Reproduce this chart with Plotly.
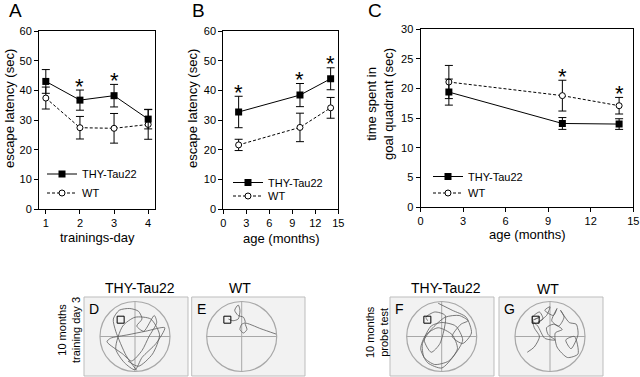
import plotly.graph_objects as go

W, H = 640, 377
FONT = "Arial, Liberation Sans, sans-serif"

# ---------------- data ----------------
# Panel A: escape latency vs trainings-day (10 months)
days = [1, 2, 3, 4]
a_thy = [43.0, 36.7, 38.2, 30.3]
a_thy_err = [4.0, 3.4, 3.8, 3.3]
a_wt = [37.4, 27.4, 27.2, 28.5]
a_wt_err = [3.7, 3.8, 5.0, 5.0]
a_star_x = [2, 3]

# Panel B: escape latency vs age
ages = [2, 10, 14]
b_thy = [32.7, 38.4, 43.9]
b_thy_err = [5.3, 3.9, 3.7]
b_wt = [21.6, 27.5, 34.1]
b_wt_err = [1.9, 4.8, 3.5]
b_star_x = [2, 10, 14]

# Panel C: time spent in goal quadrant vs age
c_thy = [19.4, 14.1, 14.0]
c_thy_err = [2.2, 1.0, 0.9]
c_wt = [21.1, 18.8, 17.1]
c_wt_err = [2.8, 2.6, 1.4]
c_star_x = [10, 14]

# Swim paths (pool radius = 1, centre = 0,0)
platform = (-0.41, 0.48)
d_x = [0.05, -0.25, -0.55, -0.62, -0.45, -0.15, 0.1, 0.2, 0.05, 0.25, 0.55, 0.62, 0.4, 0.2, -0.1, -0.35, -0.8, -0.7, -0.2, 0.3, 0.85, 0.6, 0.2, 0.0, -0.3, -0.55, -0.35, 0.0, 0.45, 0.7, 0.5, 0.1, -0.2]
d_y = [-0.97, -0.55, 0.15, 0.5, 0.75, 0.8, 0.72, 0.5, 0.3, 0.15, 0.6, 0.4, 0.0, -0.4, -0.7, -0.5, -0.15, -0.05, 0.05, 0.15, 0.25, -0.2, -0.6, -0.95, -0.75, -0.35, 0.3, 0.55, 0.5, 0.05, -0.5, -0.85, -0.7]
e_x = [0.98, 0.55, 0.1, 0.15, 0.05, -0.05, 0.0, 0.1, 0.05, -0.1, -0.2, -0.1, -0.05, -0.1, -0.25, -0.38]
e_y = [0.07, 0.22, 0.38, 0.2, 0.1, 0.2, 0.35, 0.4, 0.55, 0.6, 0.75, 0.9, 0.75, 0.5, 0.45, 0.5]
f_x = [-0.1, 0.3, 0.7, 0.85, 0.6, 0.3, 0.55, 0.75, 0.5, 0.1, -0.3, -0.55, -0.5, -0.2, 0.2, 0.45, 0.3, -0.1, -0.45, -0.6, -0.4, 0.0, 0.35, 0.6, 0.4, 0.0, -0.3, -0.5, -0.3, -0.05, 0.1, -0.2, -0.45, -0.4]
f_y = [0.95, 0.75, 0.55, 0.1, -0.2, 0.0, 0.35, 0.45, 0.6, 0.55, 0.2, -0.2, -0.6, -0.8, -0.7, -0.35, 0.05, 0.25, 0.05, -0.35, -0.75, -0.9, -0.55, -0.1, 0.3, 0.4, 0.3, -0.1, -0.45, -0.2, 0.6, 0.7, 0.55, 0.45]
g_x = [-0.65, -0.45, -0.3, -0.45, -0.5, -0.3, -0.2, -0.35, -0.1, 0.0, -0.15, 0.1, 0.2, 0.05, 0.25, 0.4, 0.3, 0.55, 0.75, 0.8, 0.6, 0.45, 0.7, 0.8, 0.5, 0.2, 0.15, 0.35, 0.1, -0.1, -0.05, 0.15, -0.15, -0.35, -0.5, -0.3, -0.45]
g_y = [-0.45, -0.3, 0.0, 0.25, 0.55, 0.7, 0.5, 0.4, 0.6, 0.85, 0.75, 0.6, 0.8, 0.45, 0.3, 0.55, 0.75, 0.4, 0.35, 0.05, -0.35, -0.1, 0.0, -0.5, -0.6, -0.3, 0.1, 0.2, 0.35, 0.25, 0.05, -0.1, -0.05, 0.3, 0.45, 0.55, 0.48]

# ---------------- helpers ----------------
def dx(p0, p1):
    return [p0 / W, p1 / W]

def dy(top, bot):
    return [1 - bot / H, 1 - top / H]

def px(x):
    return x / W

def py(y):
    return 1 - y / H

fig = go.Figure()
legends = {}
legend_common = dict(bgcolor="rgba(0,0,0,0)", font=dict(size=11, family=FONT, color="black"),
                     xanchor="left", yanchor="middle", itemwidth=30)
leg_counter = [0]

def new_legend(x, y):
    leg_counter[0] += 1
    name = "legend" if leg_counter[0] == 1 else f"legend{leg_counter[0]}"
    legends[name] = dict(x=px(x), y=py(y), **legend_common)
    return name

def add_pair(xv, thy, thy_err, wt, wt_err, xa, ya, leg_x, leg_y_thy, leg_y_wt):
    fig.add_trace(go.Scatter(
        x=xv, y=wt, xaxis=xa, yaxis=ya, name="WT", legend=new_legend(leg_x, leg_y_wt),
        mode="lines+markers",
        line=dict(color="black", width=1, dash="3px,2px"),
        marker=dict(symbol="circle", size=6, color="white", line=dict(color="black", width=1)),
        error_y=dict(type="data", array=wt_err, color="black", thickness=1, width=4),
    ))
    fig.add_trace(go.Scatter(
        x=xv, y=thy, xaxis=xa, yaxis=ya, name="THY-Tau22", legend=new_legend(leg_x, leg_y_thy),
        mode="lines+markers",
        line=dict(color="black", width=1),
        marker=dict(symbol="square", size=7, color="black"),
        error_y=dict(type="data", array=thy_err, color="black", thickness=1, width=4),
    ))

add_pair(days, a_thy, a_thy_err, a_wt, a_wt_err, "x", "y", 42, 174, 193)
add_pair(ages, b_thy, b_thy_err, b_wt, b_wt_err, "x2", "y2", 228, 182.5, 196)
add_pair(ages, c_thy, c_thy_err, c_wt, c_wt_err, "x3", "y3", 428, 176.5, 193)

annotations = []

def stars(xs, xv, vals, errs, xa, ya):
    for s in xs:
        i = xv.index(s)
        annotations.append(dict(x=s, y=vals[i] + errs[i], xref=xa, yref=ya, text="*",
                                showarrow=False, yanchor="middle", yshift=4,
                                font=dict(size=22, family=FONT, color="black")))

stars(a_star_x, days, a_thy, a_thy_err, "x", "y")
stars(b_star_x, ages, b_thy, b_thy_err, "x2", "y2")
stars(c_star_x, ages, c_wt, c_wt_err, "x3", "y3")

axis_common = dict(showline=True, linecolor="black", linewidth=1, mirror=True,
                   ticks="outside", ticklen=4, tickcolor="black", tickwidth=1,
                   showgrid=False, zeroline=False, automargin=False,
                   tickfont=dict(size=11, family=FONT, color="black"))

layout = dict(
    width=W, height=H, margin=dict(l=0, r=0, t=0, b=0, autoexpand=False),
    paper_bgcolor="white", plot_bgcolor="white",
    font=dict(family=FONT, color="black"),
    xaxis=dict(domain=dx(39, 155), range=[0.8, 4.2], tickvals=days, anchor="y", **axis_common),
    yaxis=dict(domain=dy(31, 209), range=[0, 60], dtick=10, anchor="x", **axis_common),
    xaxis2=dict(domain=dx(223.3, 338.3), range=[0, 15], dtick=3, anchor="y2", **axis_common),
    yaxis2=dict(domain=dy(31, 209), range=[0, 60], dtick=10, anchor="x2", **axis_common),
    xaxis3=dict(domain=dx(420.5, 633.3), range=[0, 15], dtick=3, anchor="y3", **axis_common),
    yaxis3=dict(domain=dy(29.3, 207), range=[0, 30], dtick=5, anchor="x3", **axis_common),
)
layout.update(legends)

# axis titles & panel letters
def ann(x, y, text, size, angle=0, xanchor="center", yanchor="middle"):
    annotations.append(dict(x=px(x), y=py(y), xref="paper", yref="paper", text=text,
                            showarrow=False, textangle=angle, xanchor=xanchor, yanchor=yanchor,
                            font=dict(size=size, family=FONT, color="black")))

ann(15, 11, "A", 19)
ann(198, 11, "B", 19)
ann(375, 10, "C", 19)
ann(9, 109, "escape latency (sec)", 13, angle=-90)
ann(192, 109, "escape latency (sec)", 13, angle=-90)
ann(380, 104, "time spent in<br>goal quadrant (sec)", 13, angle=-90)
ann(97, 237, "trainings-day", 13)
ann(281, 238, "age (months)", 13)
ann(527, 234, "age (months)", 13)

# bottom swim-path panels
panels = [
    # (box x0, x1, y0, y1, circle cx, cy, r, letter, xs, ys)
    (84, 188, 297, 376, 135, 336.5, 35, "D", d_x, d_y),
    (191.7, 305, 297, 376, 241.7, 336.5, 35, "E", e_x, e_y),
    (390, 494, 297, 376, 441.7, 336.5, 35, "F", f_x, f_y),
    (499, 603, 297, 376, 550, 336.5, 35, "G", g_x, g_y),
]
shapes = []
for k, (x0, x1, y0, y1, cx, cy, r, letter, xs, ys) in enumerate(panels):
    n = k + 4
    xa, ya = f"x{n}", f"y{n}"
    layout[f"xaxis{n}"] = dict(domain=dx(x0, x1), range=[(x0 - cx) / r, (x1 - cx) / r],
                               visible=False, fixedrange=True, anchor=ya)
    layout[f"yaxis{n}"] = dict(domain=dy(y0, y1), range=[(cy - y1) / r, (cy - y0) / r],
                               visible=False, fixedrange=True, anchor=xa)
    shapes.append(dict(type="rect", xref="paper", yref="paper",
                       x0=px(x0), x1=px(x1), y0=py(y1), y1=py(y0),
                       fillcolor="#f2f2f2", line=dict(color="#bdbdbd", width=1), layer="below"))
    shapes.append(dict(type="circle", xref=xa, yref=ya, x0=-1, x1=1, y0=-1, y1=1,
                       line=dict(color="#a8a8a8", width=1.2), layer="below"))
    shapes.append(dict(type="line", xref=xa, yref=ya, x0=-1, x1=1, y0=0, y1=0,
                       line=dict(color="#a8a8a8", width=1), layer="below"))
    shapes.append(dict(type="line", xref=xa, yref=ya, x0=0, x1=0, y0=-1, y1=1,
                       line=dict(color="#a8a8a8", width=1), layer="below"))
    fig.add_trace(go.Scatter(x=xs, y=ys, xaxis=xa, yaxis=ya, mode="lines", showlegend=False,
                             line=dict(color="#5a5a5a", width=0.8, shape="spline", smoothing=0.7),
                             hoverinfo="skip"))
    shapes.append(dict(type="rect", xref=xa, yref=ya,
                       x0=platform[0] - 0.1, x1=platform[0] + 0.1,
                       y0=platform[1] - 0.1, y1=platform[1] + 0.1,
                       line=dict(color="black", width=1)))
    ann(x0 + 3, y0 + 2, letter, 14, xanchor="left", yanchor="top")

ann(140, 288, "THY-Tau22", 14)
ann(240, 288, "WT", 14)
ann(446, 288, "THY-Tau22", 14)
ann(548, 289, "WT", 14)
ann(69, 330, "10 months<br>training day 3", 11, angle=-90)
ann(377, 332, "10 months<br>probe test", 11, angle=-90)

layout["annotations"] = annotations
layout["shapes"] = shapes
fig.update_layout(**layout)

fig.write_html("out.html", config={"displayModeBar": False},
               post_script="document.body.style.margin='0px';document.body.style.overflow='hidden';")
